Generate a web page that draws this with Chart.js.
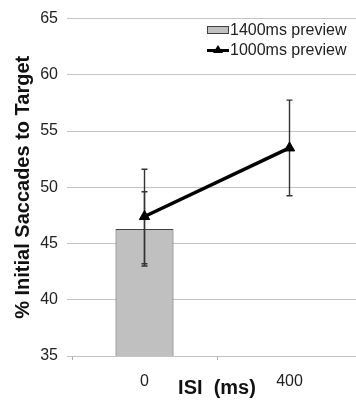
<!DOCTYPE html>
<html>
<head>
<meta charset="utf-8">
<script src="https://cdn.jsdelivr.net/npm/chart.js@4/dist/chart.umd.min.js"></script>
<style>
  html, body { margin: 0; padding: 0; background: #fff; overflow: hidden; }
  #wrap { width: 356px; height: 409px; overflow: hidden; }
</style>
</head>
<body>
<div id="wrap"><canvas id="isiChart" width="362" height="409" style="width:362px;height:409px"></canvas></div>
<script>
// datos
const categories = ['0', '400'];
const barLabel = '1400ms preview';
const barValues = [46.3, null];
const barErrors = [3.3, null];
const lineLabel = '1000ms preview';
const lineValues = [47.4, 53.5];
const lineErrors = [4.2, 4.25];
const yTicks = [35, 40, 45, 50, 55, 60, 65];

const FONT = "'Liberation Sans', Arial, sans-serif";
const errors = [barErrors, lineErrors];

// barras de error (se dibujan despues de la barra, antes de la linea)
const errorBarPlugin = {
  id: 'errorBars',
  afterDatasetDraw(chart, args) {
    if (args.index !== 0) return;
    const ctx = chart.ctx;
    const y = chart.scales.y;
    ctx.save();
    ctx.strokeStyle = '#333';
    ctx.lineWidth = 1.4;
    chart.data.datasets.forEach((ds, di) => {
      const meta = chart.getDatasetMeta(di);
      ds.data.forEach((v, i) => {
        const err = errors[di][i];
        if (v === null || err === null) return;
        const x = meta.data[i].x;
        const top = y.getPixelForValue(v + err);
        const bot = y.getPixelForValue(v - err);
        ctx.beginPath();
        ctx.moveTo(x, top); ctx.lineTo(x, bot);
        ctx.moveTo(x - 3, top); ctx.lineTo(x + 3, top);
        ctx.moveTo(x - 3, bot); ctx.lineTo(x + 3, bot);
        ctx.stroke();
      });
    });
    ctx.restore();
  }
};

// leyenda dentro del area del grafico
const legendPlugin = {
  id: 'insideLegend',
  afterDraw(chart) {
    const ctx = chart.ctx;
    const ds = chart.data.datasets;
    const x0 = 207, x1 = 229;
    ctx.save();
    // barra
    ctx.fillStyle = ds[0].backgroundColor;
    ctx.strokeStyle = ds[0].borderColor;
    ctx.lineWidth = 1;
    ctx.fillRect(x0, 26.5, x1 - x0, 7);
    ctx.strokeRect(x0 + 0.5, 26.5, x1 - x0 - 1, 7);
    // linea
    ctx.strokeStyle = '#000';
    ctx.lineWidth = 3;
    ctx.beginPath();
    ctx.moveTo(x0, 50.5); ctx.lineTo(x1, 50.5);
    ctx.stroke();
    ctx.fillStyle = '#000';
    ctx.beginPath();
    ctx.moveTo(218, 45); ctx.lineTo(223, 53); ctx.lineTo(213, 53);
    ctx.closePath();
    ctx.fill();
    // textos
    ctx.font = '16px ' + FONT;
    ctx.fillStyle = '#222';
    ctx.textBaseline = 'middle';
    ctx.textAlign = 'left';
    ctx.fillText(ds[0].label, 230, 30.5);
    ctx.fillText(ds[1].label, 230, 50.5);
    ctx.restore();
  }
};

new Chart(document.getElementById('isiChart'), {
  data: {
    labels: categories,
    datasets: [
      {
        type: 'bar',
        label: barLabel,
        data: barValues,
        backgroundColor: '#c0c0c0',
        borderColor: '#404040',
        borderWidth: 1,
        barPercentage: 0.4,
        categoryPercentage: 1,
        order: 2
      },
      {
        type: 'line',
        label: lineLabel,
        data: lineValues,
        borderColor: '#000',
        backgroundColor: '#000',
        borderWidth: 3.5,
        pointStyle: 'triangle',
        pointRadius: 6,
        pointBorderWidth: 1,
        order: 1
      }
    ]
  },
  options: {
    responsive: false,
    animation: false,
    layout: { autoPadding: false, padding: { left: 0, top: 15, right: 0, bottom: 0 } },
    plugins: { legend: { display: false }, tooltip: { enabled: false } },
    scales: {
      x: {
        offset: true,
        border: { display: false },
        grid: { drawOnChartArea: false, offset: true, tickLength: 4, color: '#aaa' },
        ticks: { font: { family: FONT, size: 16 }, color: '#222', padding: 12 },
        title: {
          display: true, text: 'ISI  (ms)', color: '#111',
          font: { family: FONT, size: 20, weight: 'bold' },
          padding: { top: 0, bottom: 9 }
        },
        afterFit(scale) { scale.height = 53; }
      },
      y: {
        min: 35, max: 65,
        border: { display: false },
        grid: { color: '#c4c4c4', tickLength: 5, lineWidth: 1 },
        afterBuildTicks(scale) { scale.ticks = yTicks.map(v => ({ value: v })); },
        ticks: { font: { family: FONT, size: 16 }, color: '#222', padding: 9 },
        title: {
          display: true, text: '% Initial Saccades to Target', color: '#111',
          font: { family: FONT, size: 20, weight: 'bold' },
          padding: { top: 11, bottom: 0 }
        },
        afterFit(scale) { scale.width = 72; }
      }
    }
  },
  plugins: [errorBarPlugin, legendPlugin]
});
</script>
</body>
</html>
